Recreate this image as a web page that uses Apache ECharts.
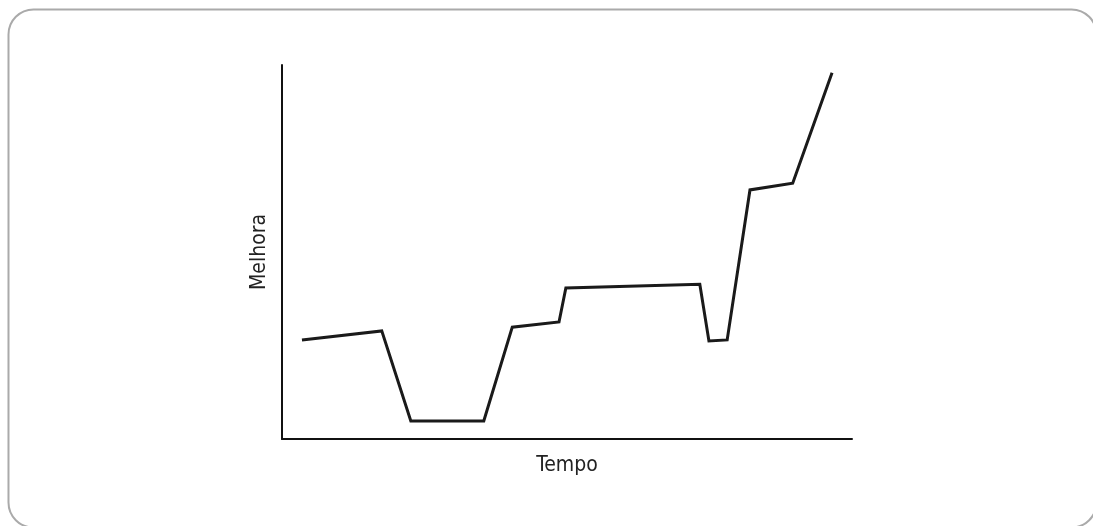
<!DOCTYPE html>
<html>
<head>
<meta charset="utf-8">
<script src="https://cdn.jsdelivr.net/npm/echarts@6/dist/echarts.min.js"></script>
<style>
html,body{margin:0;padding:0;background:#fff;}
#main{width:1093px;height:526px;}
</style>
</head>
<body>
<div id="main"></div>
<script>
// tempo (x) e melhora (y)
var tempo = [3.5, 17.5, 22.6, 35.4, 40.4, 48.6, 49.8, 73.3, 74.9, 78.1, 82.1, 89.6, 96.5];
var melhora = [26.5, 28.9, 4.8, 4.8, 29.9, 31.3, 40.4, 41.4, 26.2, 26.5, 66.6, 68.4, 97.9];

var pontos = [];
for (var i = 0; i < tempo.length; i++) {
    pontos.push([tempo[i], melhora[i]]);
}

var chart = echarts.init(document.getElementById("main"));
var fonte = '"Liberation Sans Narrow", "DejaVu Sans Condensed", "Roboto", sans-serif';
var option = {
    animation: false,
    graphic: [{
        type: 'rect',
        shape: {x: 8.5, y: 9.5, width: 1088, height: 518, r: 25},
        style: {fill: 'none', stroke: '#aaaaaa', lineWidth: 2},
        silent: true
    }],
    grid: {
        left: 282,
        right: 241,
        top: 65,
        bottom: 87,
        containLabel: false
    },
    xAxis: {
        type: 'value',
        min: 0,
        max: 100,
        name: 'Tempo',
        nameLocation: 'middle',
        nameGap: 16,
        nameTextStyle: {color: '#222', fontSize: 21, fontFamily: fonte, verticalAlign: 'top'},
        axisLine: {show: true, lineStyle: {color: '#111', width: 2}},
        axisTick: {show: false},
        axisLabel: {show: false},
        splitLine: {show: false}
    },
    yAxis: {
        type: 'value',
        min: 0,
        max: 100,
        name: 'Melhora',
        nameLocation: 'middle',
        nameGap: 12,
        nameTextStyle: {color: '#222', fontSize: 21, fontFamily: fonte},
        axisLine: {show: true, lineStyle: {color: '#111', width: 2}},
        axisTick: {show: false},
        axisLabel: {show: false},
        splitLine: {show: false}
    },
    series: [{
        type: 'line',
        data: pontos,
        symbol: 'none',
        lineStyle: {color: '#1a1a1a', width: 3, join: 'miter'}
    }]
};
chart.setOption(option);
</script>
</body>
</html>
